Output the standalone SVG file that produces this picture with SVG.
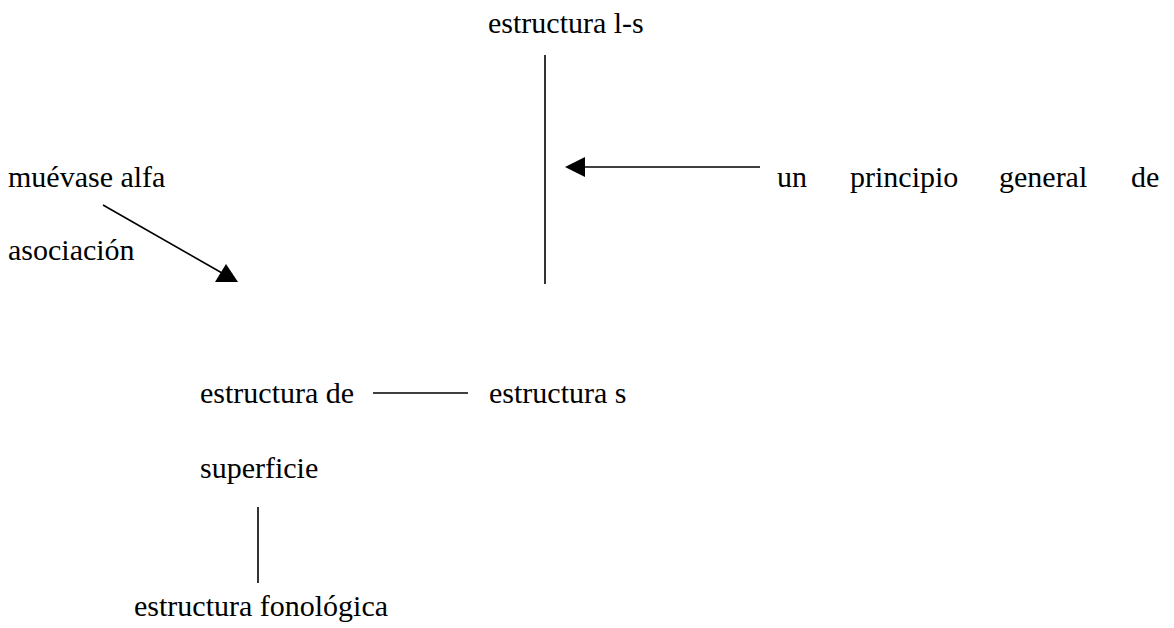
<svg xmlns="http://www.w3.org/2000/svg" width="1174" height="628" viewBox="0 0 1174 628">
<style>
text{font-family:"Liberation Serif","Times New Roman",serif;font-size:30px;fill:#000}
.ln{stroke:#000;stroke-width:1.6;fill:none}
.ah{fill:#000;stroke:none}
</style>
<rect width="1174" height="628" fill="#fff"/>
<g id="node-ls"><text x="488" y="33">estructura l-s</text></g>
<g id="node-muevase"><text x="8" y="187">muévase alfa</text><text x="8" y="260">asociación</text></g>
<g id="node-principio"><text x="777" y="187">un</text><text x="850" y="187">principio</text><text x="999" y="187">general</text><text x="1131" y="187">de</text></g>
<g id="node-ds"><text x="200" y="403">estructura de</text><text x="200" y="478">superficie</text></g>
<g id="node-ss"><text x="489" y="403">estructura s</text></g>
<g id="node-fon"><text x="134" y="616">estructura fonológica</text></g>
<g id="connectors">
<line class="ln" x1="545" y1="55" x2="545" y2="284"/>
<line class="ln" x1="585" y1="167" x2="760" y2="167"/>
<polygon class="ah" points="565,167 585,157 585,177"/>
<line class="ln" x1="103" y1="205" x2="222" y2="273"/>
<polygon class="ah" points="238,282 215,282 226,264"/>
<line class="ln" x1="373" y1="393" x2="468" y2="393"/>
<line class="ln" x1="258" y1="507" x2="258" y2="583"/>
</g>
</svg>
